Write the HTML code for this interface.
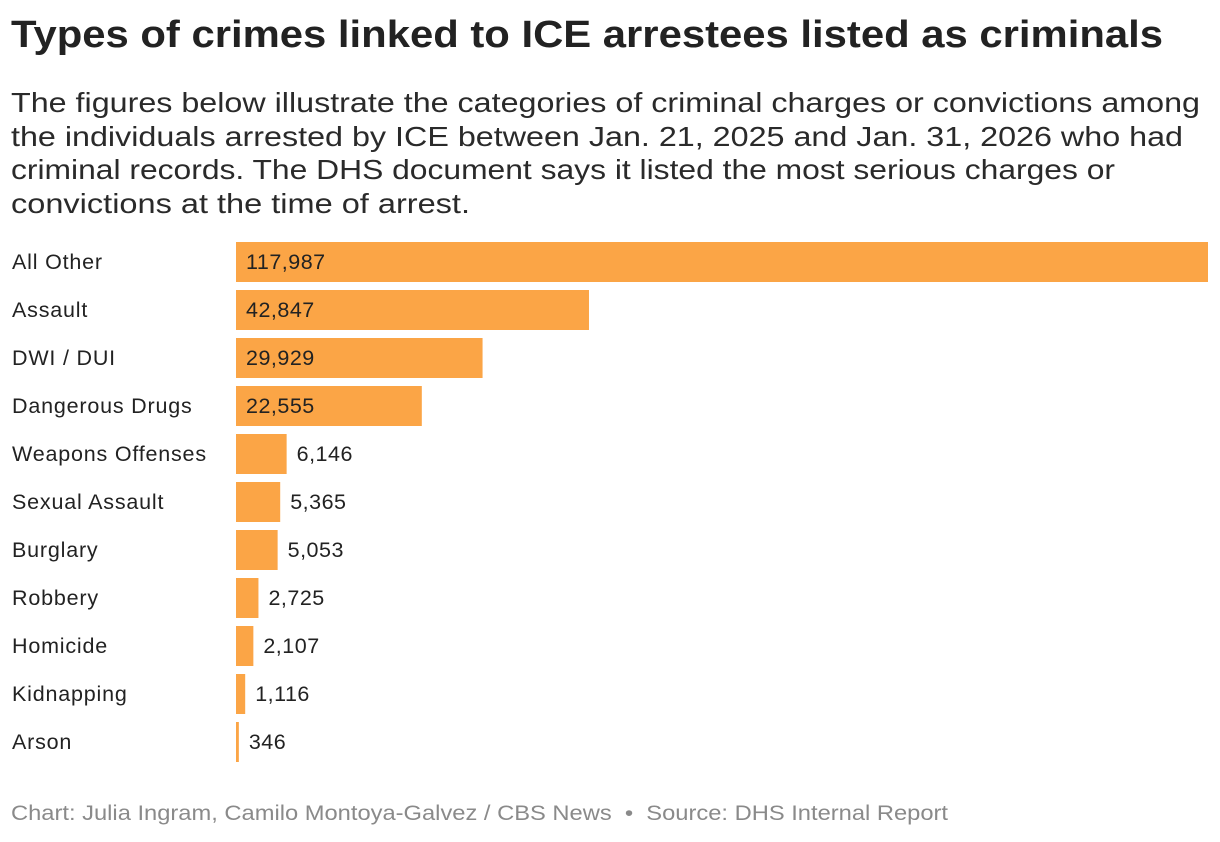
<!DOCTYPE html>
<html><head><meta charset="utf-8"><style>
body{margin:0;width:1220px;height:842px;background:#fff;font-family:"Liberation Sans",sans-serif;color:#222;position:relative;overflow:hidden}
.fit{position:absolute;left:11px;white-space:nowrap;transform-origin:0 50%}
#title{top:14px;font-size:38px;font-weight:bold}
.sl{font-size:28px;color:#2a2a2a;line-height:34px}
#foot{top:802px;font-size:21px;color:#8a8a8a}
svg{position:absolute;left:0;top:0}
</style></head><body>
<div id="title" class="fit" data-w="1152">Types of crimes linked to ICE arrestees listed as criminals</div>
<div class="fit sl" style="top:86px" data-w="1189">The figures below illustrate the categories of criminal charges or convictions among</div>
<div class="fit sl" style="top:120px" data-w="1172">the individuals arrested by ICE between Jan. 21, 2025 and Jan. 31, 2026 who had</div>
<div class="fit sl" style="top:153px" data-w="1104">criminal records. The DHS document says it listed the most serious charges or</div>
<div class="fit sl" style="top:187px" data-w="459">convictions at the time of arrest.</div>
<svg id="chart" width="1220" height="842"></svg>
<div id="foot" class="fit" data-w="937">Chart: Julia Ingram, Camilo Montoya-Galvez / CBS News &nbsp;•&nbsp; Source: DHS Internal Report</div>
<script>
const categories=["All Other","Assault","DWI / DUI","Dangerous Drugs","Weapons Offenses","Sexual Assault","Burglary","Robbery","Homicide","Kidnapping","Arson"];
const values=[117987,42847,29929,22555,6146,5365,5053,2725,2107,1116,346];
document.querySelectorAll('.fit').forEach(el=>{const w=el.getBoundingClientRect().width;el.style.transform='scaleX('+(+el.dataset.w/w)+')';});
const svg=document.getElementById('chart');const NS='http://www.w3.org/2000/svg';
const x0=236,x1=1208,top0=242,step=48,bh=40;
const maxV=Math.max(...values);
const xs=v=>v/maxV*(x1-x0);
const ys=i=>top0+i*step;
categories.forEach((c,i)=>{
 const y=ys(i);
 const t=document.createElementNS(NS,'text');
 
 
 t.setAttribute('x',12);t.setAttribute('y',y+bh/2+7);t.setAttribute('font-size','21.5');t.setAttribute('fill','#222');t.setAttribute('letter-spacing','0.8');
 t.textContent=c;svg.appendChild(t);
 const w=Math.max(xs(values[i]),1.5);
 const r=document.createElementNS(NS,'rect');
 
 
 r.setAttribute('x',x0);r.setAttribute('y',y);r.setAttribute('width',w);r.setAttribute('height',bh);r.setAttribute('fill','#fba546');
 svg.appendChild(r);
 const v=document.createElementNS(NS,'text');
 
 
 const inside=w>120;
 v.setAttribute('x',inside?x0+10:x0+w+10);v.setAttribute('y',y+bh/2+7);v.setAttribute('font-size','21.5');v.setAttribute('fill','#222');v.setAttribute('letter-spacing','0.5');
 v.textContent=values[i].toLocaleString('en-US');svg.appendChild(v);
});
</script>
</body></html>
